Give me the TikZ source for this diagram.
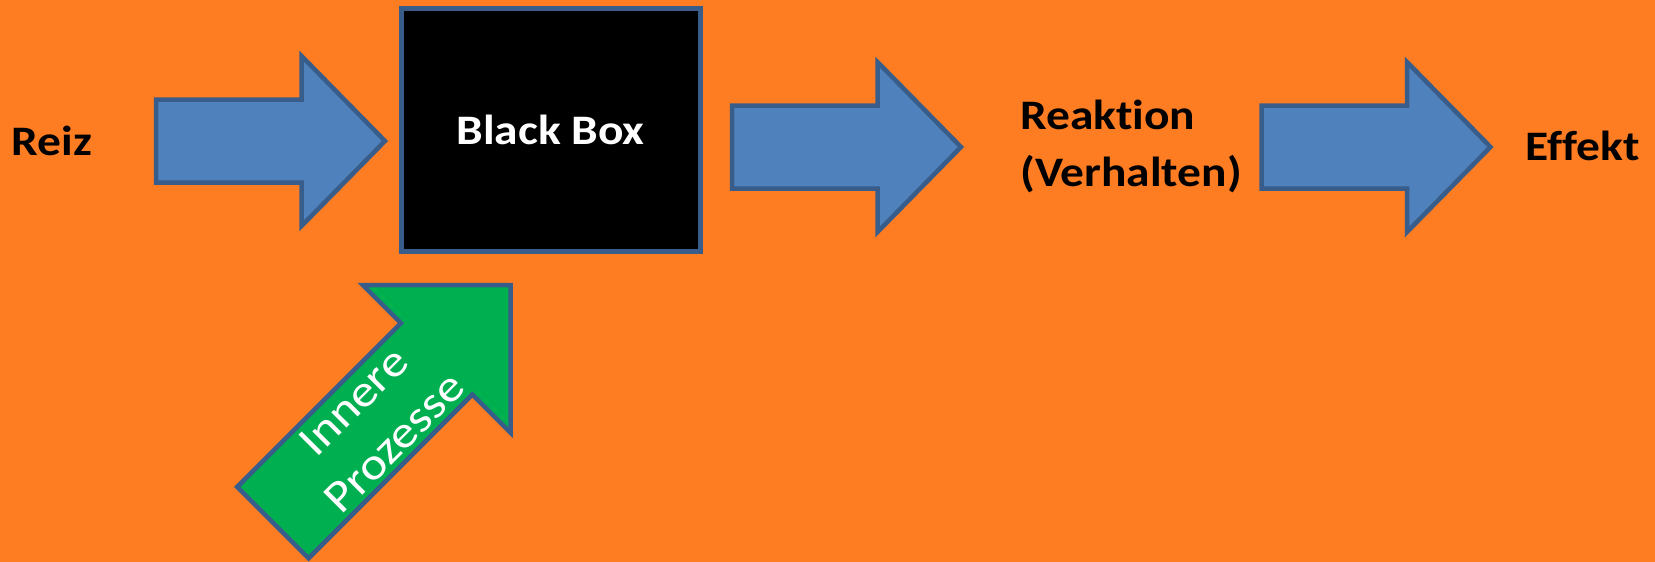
\documentclass[tikz,border=0pt]{standalone}
\usepackage{fontspec}
\setmainfont{Carlito}[FakeStretch=1.13, Ligatures=NoCommon]
\definecolor{bg}{RGB}{254,125,35}
\definecolor{afill}{RGB}{79,129,189}
\definecolor{aline}{RGB}{56,93,138}
\definecolor{gfill}{RGB}{0,176,80}
\tikzset{
  blockarrow/.style={fill=afill, draw=aline, line width=4.5pt, line join=miter},
  greenarrow/.style={fill=gfill, draw=aline, line width=4.5pt, line join=miter},
  boxstyle/.style={fill=black, draw=aline, line width=5pt, inner sep=0pt,
    minimum width=299pt, minimum height=242.5pt, text=white,
    font=\fontsize{42}{56.7}\selectfont\bfseries},
  lbl/.style={font=\fontsize{42}{56.7}\selectfont\bfseries, text=black, inner sep=0pt},
  barrow/.pic={\draw[blockarrow] (0,-41.5) -- (145.5,-41.5) -- (145.5,-85) -- (229,0)
     -- (145.5,85) -- (145.5,41.5) -- (0,41.5) -- cycle;}
}
\begin{document}
\begin{tikzpicture}[x=1pt,y=-1pt]
\fill[bg] (0,0) rectangle (1655,562);
\useasboundingbox (0,0) rectangle (1655,562);
% box
\node[boxstyle] (bb) at (550.5,129.75) {Black Box};
% labels
\node[lbl, anchor=base] (reiz) at (52,155) {Reiz};
\node[lbl, anchor=base] (eff) at (1582.5,160) {Effekt};
\node[lbl, align=left, anchor=base west] (reak) at (1020,186) {Reaktion\\(Verhalten)};
% blue arrows
\pic (a1) at (156,141) {barrow};
\pic (a2) at (732,147) {barrow};
\pic (a3) at (1261.5,147) {barrow};
% green arrow
\draw[greenarrow] (510.5,285) -- (362.7,285) -- (400.9,323.2) -- (237.2,486.9)
  -- (308.6,558.3) -- (472.3,394.6) -- (510.5,432.8) -- cycle;
\node[text=white, rotate=45, align=center, inner sep=0pt,
  font=\fontsize{45}{58}\selectfont] (ip) at (374,422) {Innere\\Prozesse};
\end{tikzpicture}
\end{document}
